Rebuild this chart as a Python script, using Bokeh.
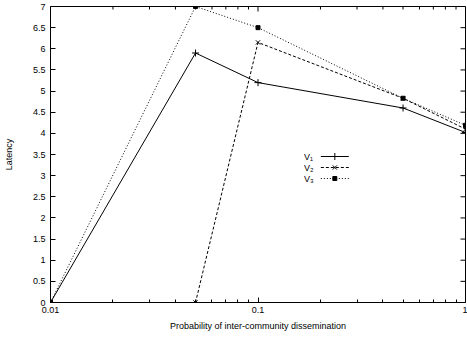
from bokeh.plotting import figure
from bokeh.models import FixedTicker, Range1d
from bokeh.core.properties import value
from bokeh.embed import file_html
from bokeh.resources import INLINE

# Latency versus probability of inter-community dissemination
prob = [0.01, 0.05, 0.1, 0.5, 1.0]
v1 = [0.0, 5.9, 5.2, 4.6, 4.02]
v2 = [0.0, 0.0, 6.15, 4.83, 4.1]
v3 = [0.0, 7.0, 6.5, 4.83, 4.19]
series_names = ["V\u2081", "V\u2082", "V\u2083"]

x_ticks = [0.01, 0.1, 1.0]
x_tick_labels = ["0.01", "0.1", "1"]
y_ticks = [0, 0.5, 1, 1.5, 2, 2.5, 3, 3.5, 4, 4.5, 5, 5.5, 6, 6.5, 7]
y_tick_labels = ["0", "0.5", "1", "1.5", "2", "2.5", "3", "3.5", "4", "4.5",
                 "5", "5.5", "6", "6.5", "7"]

FONT = "Liberation Sans"
FS = "9px"

# frame geometry in canvas pixels
FRAME_L, FRAME_R, FRAME_T, FRAME_B = 49, 465, 6, 302
X_MIN, X_MAX, Y_MIN, Y_MAX = 0.01, 1.0, 0.0, 7.0
MAJOR_LEN, MINOR_LEN = 5, 3

p = figure(width=467, height=340, x_axis_type="log",
           x_range=Range1d(X_MIN, X_MAX), y_range=Range1d(Y_MIN, Y_MAX),
           output_backend="svg", toolbar_location=None,
           min_border_left=FRAME_L, min_border_right=467 - FRAME_R,
           min_border_top=FRAME_T, min_border_bottom=340 - FRAME_B)
p.grid.visible = False
p.outline_line_color = "black"
p.outline_line_width = 1
p.background_fill_color = "white"
p.border_fill_color = "white"

x_minor = [m * 10 ** e for e in (-2, -1) for m in range(2, 10)]


def style_axis(ax):
    ax.axis_line_color = "black"
    ax.major_tick_line_color = "black"
    ax.minor_tick_line_color = "black"
    ax.major_tick_in = MAJOR_LEN
    ax.major_tick_out = 0
    ax.minor_tick_in = MINOR_LEN
    ax.minor_tick_out = 0
    ax.major_label_text_font = FONT
    ax.major_label_text_font_size = FS
    ax.major_label_text_color = "black"
    ax.axis_label_text_font = FONT
    ax.axis_label_text_font_size = FS
    ax.axis_label_text_font_style = "normal"
    ax.axis_label_text_color = "black"


xa = p.xaxis[0]
xa.ticker = FixedTicker(ticks=x_ticks, minor_ticks=x_minor)
xa.major_label_overrides = dict(zip(x_ticks, x_tick_labels))
style_axis(xa)
xa.major_label_standoff = 4
xa.axis_label = "Probability of inter-community dissemination"
xa.axis_label_standoff = 5

ya = p.yaxis[0]
ya.ticker = FixedTicker(ticks=y_ticks, minor_ticks=[])
ya.major_label_overrides = dict(zip(y_ticks, y_tick_labels))
style_axis(ya)
ya.major_label_standoff = 5
ya.axis_label = "Latency"
ya.axis_label_standoff = 16


def data_x(px):
    return 10 ** (-2 + 2 * (px - FRAME_L) / (FRAME_R - FRAME_L))


def data_y(py):
    return Y_MAX * (FRAME_B - py) / (FRAME_B - FRAME_T)


# mirrored inward tick marks along the top and right borders
tx0, tx1, ty0, ty1 = [], [], [], []
for t in x_ticks + x_minor:
    ln = MAJOR_LEN if t in x_ticks else MINOR_LEN
    tx0.append(t); tx1.append(t)
    ty0.append(Y_MAX); ty1.append(data_y(FRAME_T + ln))
for t in y_ticks:
    tx0.append(X_MAX); tx1.append(data_x(FRAME_R - MAJOR_LEN))
    ty0.append(t); ty1.append(t)
p.segment(x0=tx0, y0=ty0, x1=tx1, y1=ty1, line_color="black", line_width=1)

series = [
    (v1, "solid", "cross", 7),
    (v2, "3 2", "x", 6),
    (v3, "1 2", "square", 4),
]
for ys, dash, marker, size in series:
    p.line(prob, ys, line_color="black", line_width=1, line_dash=dash)
    p.scatter(prob, ys, marker=marker, size=size, line_color="black",
              fill_color="black", line_width=1)

# key inside the frame: label first, then the line sample
key_rows = [156, 167, 178]
key_text_x, key_line_x0, key_line_x1, key_mark_x = 303, 320, 348, 334
for (ys, dash, marker, size), name, row in zip(series, series_names, key_rows):
    yy = data_y(row)
    p.text(x=[data_x(key_text_x)], y=[yy], text=[name],
           text_font=value(FONT), text_font_size=FS, text_color="black",
           text_align="left", text_baseline="middle")
    p.line([data_x(key_line_x0), data_x(key_line_x1)], [yy, yy],
           line_color="black", line_width=1, line_dash=dash)
    p.scatter([data_x(key_mark_x)], [yy], marker=marker, size=size,
              line_color="black", fill_color="black", line_width=1)

open("out.html", "w").write(file_html(p, INLINE))
